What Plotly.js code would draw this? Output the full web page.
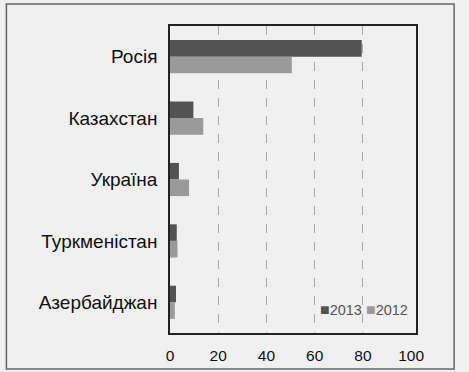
<!DOCTYPE html>
<html><head><meta charset="utf-8">
<script src="https://cdn.plot.ly/plotly-3.0.1.min.js"></script>
<style>html,body{margin:0;padding:0;background:#f0f0f0;}#chart{width:469px;height:372px;}</style>
</head><body><div id="chart"></div>
<script>
const countries = ["Росія", "Казахстан", "Україна", "Туркменістан", "Азербайджан"];
const values2013 = [79.5, 9.7, 3.7, 2.8, 2.5];
const values2012 = [50.5, 13.8, 7.9, 3.1, 2.0];
const seriesNames = ["2013", "2012"];
const seriesColors = ["#535353", "#9a9a9a"];
const xTicks = [0, 20, 40, 60, 80, 100];
const gridTicks = [20, 40, 60, 80];

const seriesValues = [values2013, values2012];
const traces = seriesNames.map((n, i) => ({
  type: "bar", orientation: "h", name: n, y: countries, x: seriesValues[i],
  marker: {color: seriesColors[i]}, showlegend: false
}));
// transparent helper trace to activate xaxis2 gridlines
traces.push({type: "scatter", x: [0], y: [countries[0]], xaxis: "x2", yaxis: "y",
             mode: "markers", marker: {opacity: 0}, showlegend: false, hoverinfo: "skip"});

const legendText = seriesNames.map((n, i) =>
  `<span style="color:${seriesColors[i]};font-size:16px">■</span>${n}`).join(" ");

const layout = {
  width: 469, height: 372,
  margin: {l: 170, r: 53, t: 26, b: 39},
  paper_bgcolor: "#f0f0f0", plot_bgcolor: "#f0f0f0",
  barmode: "group", bargap: 0.46, bargroupgap: 0,
  font: {family: "Liberation Sans, Arial, sans-serif", color: "#111"},
  xaxis: {range: [0, 102], tickvals: xTicks, showgrid: false, zeroline: false,
          showline: true, linecolor: "#222", linewidth: 1.5, mirror: true,
          ticks: "", ticklabelstandoff: 8, tickfont: {size: 15.5, color: "#111"}},
  xaxis2: {overlaying: "x", matches: "x", tickvals: gridTicks, showticklabels: false,
           showgrid: true, gridcolor: "#a8a8a8", griddash: "dash", gridwidth: 1.2,
           zeroline: false, showline: false, ticks: ""},
  yaxis: {autorange: "reversed", showgrid: false, zeroline: false,
          showline: true, linecolor: "#222", linewidth: 1.5, mirror: true,
          ticks: "", ticklabelstandoff: 7, tickfont: {size: 19, color: "#111"}},
  annotations: [{xref: "paper", yref: "paper", x: 0.975, y: 0.075, xanchor: "right", yanchor: "middle",
                 showarrow: false, text: legendText,
                 font: {family: "Liberation Sans, Arial, sans-serif", size: 14.5, color: "#555"}}],
  shapes: [{type: "rect", xref: "paper", yref: "paper",
            x0: -0.665, x1: 1.155, y0: -0.117, y1: 1.072,
            line: {color: "#666", width: 1.5}, fillcolor: "rgba(0,0,0,0)", layer: "below"}]
};

Plotly.newPlot("chart", traces, layout, {displayModeBar: false});
</script></body></html>
